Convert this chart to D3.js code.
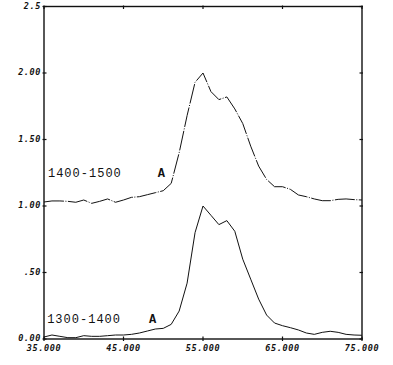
<!DOCTYPE html>
<html>
<head>
<meta charset="utf-8">
<script src="https://cdn.jsdelivr.net/npm/d3@7"></script>
<style>
  html, body { margin: 0; padding: 0; background: #fff; }
  svg { display: block; }
  .tick-label { font-family: "DejaVu Sans Mono", monospace; font-weight: bold; font-style: italic; font-size: 8.5px; letter-spacing: 0.6px; fill: #111; }
  .series-label { font-family: "Liberation Mono", monospace; font-size: 12px; letter-spacing: 1px; fill: #111; }
</style>
</head>
<body>
<div id="chart"></div>
<script>
// x positions (one reading per unit)
const xs = d3.range(35, 76);

// 1300-1400 band, baseline 0
const lower = [0.015, 0.03, 0.02, 0.01, 0.01, 0.025, 0.02, 0.02, 0.025, 0.03,
  0.03, 0.035, 0.045, 0.06, 0.075, 0.08, 0.11, 0.21, 0.42, 0.8,
  1.0, 0.93, 0.86, 0.89, 0.81, 0.6, 0.45, 0.3, 0.18, 0.12,
  0.1, 0.085, 0.068, 0.045, 0.035, 0.05, 0.058, 0.05, 0.035, 0.03, 0.028];

// 1400-1500 band, offset by 1
const upper = [1.03, 1.038, 1.038, 1.035, 1.028, 1.045, 1.02, 1.035, 1.053, 1.028,
  1.045, 1.065, 1.07, 1.085, 1.1, 1.115, 1.17, 1.4, 1.68, 1.93,
  2.0, 1.86, 1.80, 1.82, 1.73, 1.62, 1.45, 1.3, 1.2, 1.145,
  1.145, 1.125, 1.083, 1.07, 1.053, 1.04, 1.04, 1.05, 1.053, 1.048, 1.045];

const yTicks = [0, 0.5, 1, 1.5, 2, 2.5];
const yTickLabels = ['0.00', '.50', '1.00', '1.50', '2.00', '2.5'];
const xTicks = [35, 45, 55, 65, 75];
const xTickLabels = ['35.000', '45.000', '55.000', '65.000', '75.000'];

const labels = [
  { text: '1400-1500', x: 35.5, y: 1.25, mark: 49.3 },
  { text: '1300-1400', x: 35.4, y: 0.15, mark: 48.2 },
];

const W = 393, H = 365;
const x = d3.scaleLinear().domain([35, 75]).range([44, 362]);
const y = d3.scaleLinear().domain([0, 2.5]).range([339, 6.5]);

const svg = d3.select('#chart').append('svg').attr('width', W).attr('height', H);
svg.append('rect').attr('width', W).attr('height', H).attr('fill', '#fff');

const line = d3.line().x((d, i) => x(xs[i])).y(d => y(d));

svg.append('path').datum(lower).attr('d', line)
  .attr('fill', 'none').attr('stroke', '#111').attr('stroke-width', 1);
svg.append('path').datum(upper).attr('d', line)
  .attr('fill', 'none').attr('stroke', '#111').attr('stroke-width', 1)
  .attr('stroke-dasharray', '20,1.5,1,1.5');

// frame
const frame = svg.append('g').attr('stroke', '#111').attr('fill', 'none');
frame.append('rect').attr('x', x(35)).attr('y', y(2.5))
  .attr('width', x(75) - x(35)).attr('height', y(0) - y(2.5)).attr('stroke-width', 1.4);

// ticks on all four sides
yTicks.forEach(t => {
  frame.append('line').attr('x1', x(35) - 1.5).attr('x2', x(35) + 2.5).attr('y1', y(t)).attr('y2', y(t)).attr('stroke-width', 1.2);
  frame.append('line').attr('x1', x(75) - 2.5).attr('x2', x(75) + 1).attr('y1', y(t)).attr('y2', y(t)).attr('stroke-width', 1.2);
});
xTicks.forEach(t => {
  frame.append('line').attr('x1', x(t)).attr('x2', x(t)).attr('y1', y(0) - 2.5).attr('y2', y(0) + 2).attr('stroke-width', 1.2);
  frame.append('line').attr('x1', x(t)).attr('x2', x(t)).attr('y1', y(2.5) - 1).attr('y2', y(2.5) + 2.5).attr('stroke-width', 1.2);
});

svg.selectAll('.ylab').data(yTicks).enter().append('text')
  .attr('class', 'tick-label')
  .attr('x', x(35) - 3).attr('y', d => y(d) + 2)
  .attr('text-anchor', 'end')
  .text((d, i) => yTickLabels[i]);

svg.selectAll('.xlab').data(xTicks).enter().append('text')
  .attr('class', 'tick-label')
  .attr('x', d => x(d)).attr('y', y(0) + 12)
  .attr('text-anchor', 'middle')
  .text((d, i) => xTickLabels[i]);

labels.forEach(l => {
  svg.append('text').attr('class', 'series-label')
    .attr('x', x(l.x)).attr('y', y(l.y) + 4).text(l.text);
  svg.append('text').attr('class', 'series-label')
    .attr('x', x(l.mark)).attr('y', y(l.y) + 4)
    .style('font-weight', 'bold').style('letter-spacing', '0').text('A');
});
</script>
</body>
</html>
